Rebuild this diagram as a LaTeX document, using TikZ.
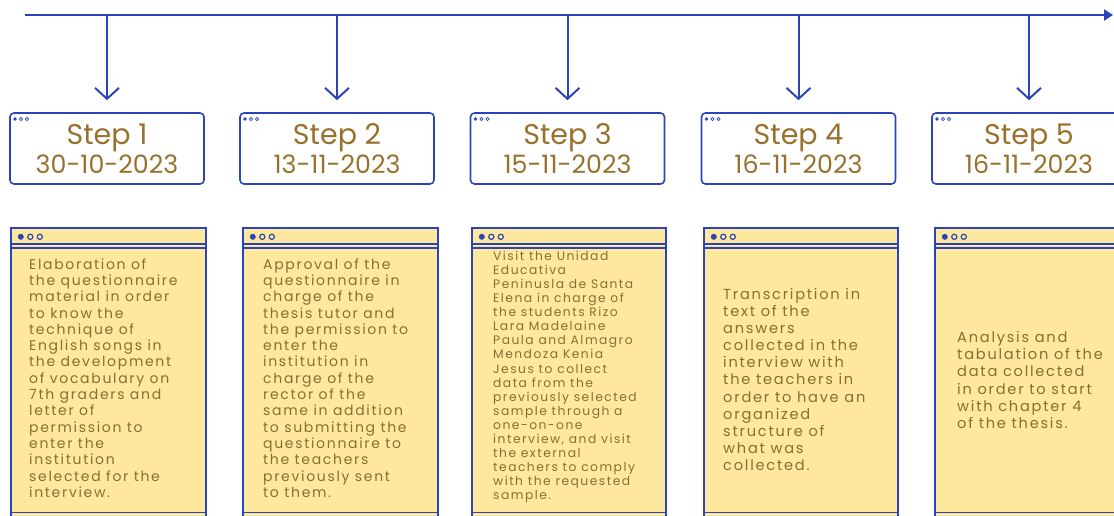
\documentclass[tikz,border=0pt]{standalone}
\usepackage{fontspec}
\setmainfont{Poppins}
\newfontfamily\notefont[LetterSpace=12]{Poppins}
\usetikzlibrary{positioning,arrows.meta}
\definecolor{inkblue}{RGB}{44,68,186}
\definecolor{stepgold}{RGB}{152,114,44}
\definecolor{notetext}{RGB}{138,110,48}
\definecolor{notefill}{RGB}{253,232,158}

\begin{document}
\begin{tikzpicture}[x=1pt,y=-1pt,
    axis/.style={draw=inkblue, line width=2.4pt, -{Triangle[length=9pt,width=11pt]}},
    drop/.style={draw=inkblue, line width=2pt, -{Straight Barb[length=11pt,width=24pt]}, shorten >=12pt},
    stepbox/.style={draw=inkblue, line width=1.6pt, fill=white, rounded corners=4pt,
        minimum width=194pt, minimum height=71pt, inner sep=0pt, align=center,
        text=stepgold, font=\fontsize{25.3}{29}\selectfont,
        path picture={
            \fill[inkblue] ([xshift=5pt,yshift=-6pt]path picture bounding box.north west) circle (1.8pt);
            \draw[inkblue, line width=0.8pt]
                ([xshift=11pt,yshift=-6pt]path picture bounding box.north west) circle (1.6pt)
                ([xshift=17pt,yshift=-6pt]path picture bounding box.north west) circle (1.6pt);
        }},
    steptitle/.style={font=\fontsize{28.5}{29}\selectfont},
    win/.style={draw=inkblue, line width=1.6pt, fill=notefill, minimum height=300pt,
        inner sep=0pt, anchor=north west,
        path picture={
            \fill[inkblue] ([xshift=10pt,yshift=-9pt]path picture bounding box.north west) circle (3pt);
            \draw[inkblue, line width=1.2pt]
                ([xshift=19.5pt,yshift=-9pt]path picture bounding box.north west) circle (2.6pt)
                ([xshift=29pt,yshift=-9pt]path picture bounding box.north west) circle (2.6pt);
            \draw[inkblue, line width=1.6pt]
                ([yshift=-16pt]path picture bounding box.north west) -- ++(300pt,0)
                ([yshift=-20pt]path picture bounding box.north west) -- ++(300pt,0)
                ([yshift=-284.5pt]path picture bounding box.north west) -- ++(300pt,0);
        }},
    note/.style={text=notetext, align=left, anchor=west, inner sep=0pt,
        font=\notefont\fontsize{14}{16.3}\selectfont}]

    \useasboundingbox (0,0) rectangle (1114,516);
    \clip (0,0) rectangle (1114,516);

    % time line
    \coordinate (tl0) at (25,15);
    \coordinate (tl1) at (1113,15);
    \draw[axis] (tl0) -- (tl1);

    % step headers
    \node[stepbox] (s1) at (107,148.5) {{\fontsize{28.5}{29}\selectfont Step 1}\\30-10-2023};
    \node[stepbox] (s2) at (337,148.5) {{\fontsize{28.5}{29}\selectfont Step 2}\\13-11-2023};
    \node[stepbox] (s3) at (567.5,148.5) {{\fontsize{28.5}{29}\selectfont Step 3}\\15-11-2023};
    \node[stepbox] (s4) at (798.5,148.5) {{\fontsize{28.5}{29}\selectfont Step 4}\\16-11-2023};
    \node[stepbox] (s5) at (1029,148.5) {{\fontsize{28.5}{29}\selectfont Step 5}\\16-11-2023};

    \draw[drop] (s1.north |- tl0) -- (s1.north);
    \draw[drop] (s2.north |- tl0) -- (s2.north);
    \draw[drop] (s3.north |- tl0) -- (s3.north);
    \draw[drop] (s4.north |- tl0) -- (s4.north);
    \draw[drop] (s5.north |- tl0) -- (s5.north);

    % note windows
    \node[win, minimum width=195pt] (win1) at (10,227) {};
    \node[win, minimum width=195pt] (win2) at (242,227) {};
    \node[win, minimum width=194pt] (win3) at (471,227) {};
    \node[win, minimum width=194pt] (win4) at (703,227) {};
    \node[win, minimum width=195pt] (win5) at (934,227) {};

    \node[note] (txt1) at ([xshift=19pt,yshift=-151pt]win1.north west)
        {Elaboration of\\the questionnaire\\material in order\\to know the\\technique of\\English songs in\\the development\\of vocabulary on\\7th graders and\\letter of\\permission to\\enter the\\institution\\selected for the\\interview.};
    \node[note] (txt2) at ([xshift=21pt,yshift=-151pt]win2.north west)
        {Approval of the\\questionnaire in\\charge of the\\thesis tutor and\\the permission to\\enter the\\institution in\\charge of the\\rector of the\\same in addition\\to submitting the\\questionnaire to\\the teachers\\previously sent\\to them.};
    \node[note, font=\notefont\fontsize{12.3}{14.1}\selectfont] (txt3) at ([xshift=22pt,yshift=-150pt]win3.north west)
        {Visit the Unidad\\Educativa\\Peninusla de Santa\\Elena in charge of\\the students Rizo\\Lara Madelaine\\Paula and Almagro\\Mendoza Kenia\\Jesus to collect\\data from the\\previously selected\\sample through a\\one-on-one\\interview, and visit\\the external\\teachers to comply\\with the requested\\sample.};
    \node[note, font=\notefont\fontsize{14.6}{17.1}\selectfont] (txt4) at ([xshift=20pt,yshift=-152.5pt]win4.north west)
        {Transcription in\\text of the\\answers\\collected in the\\interview with\\the teachers in\\order to have an\\organized\\structure of\\what was\\collected.};
    \node[note, font=\notefont\fontsize{14.6}{17.1}\selectfont] (txt5) at ([xshift=23pt,yshift=-153pt]win5.north west)
        {Analysis and\\tabulation of the\\data collected\\in order to start\\with chapter 4\\of the thesis.};
\end{tikzpicture}
\end{document}
